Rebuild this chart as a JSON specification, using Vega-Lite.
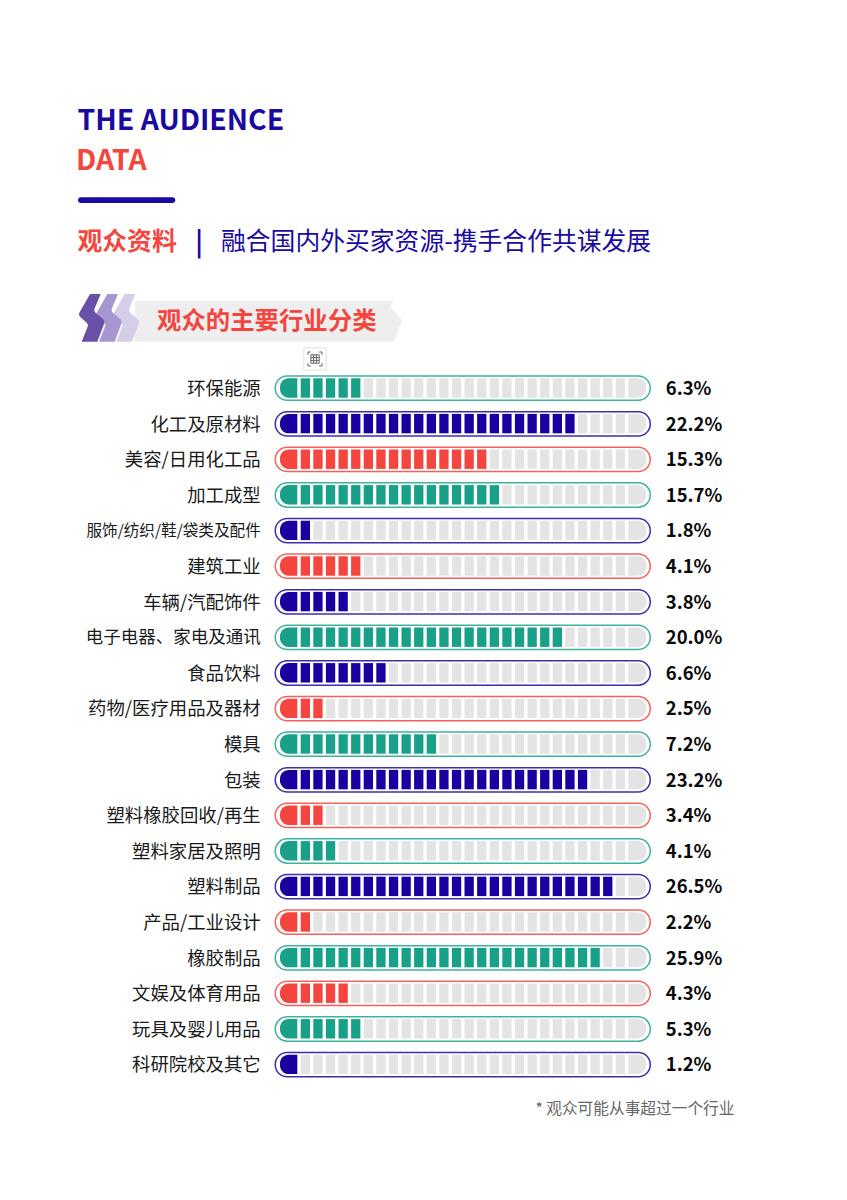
{"$schema":"https://vega.github.io/schema/vega-lite/v6.json","width":847,"height":1200,"padding":0,"autosize":{"type":"none"},"background":"#ffffff","view":{"stroke":null},"config":{"font":"Noto Sans CJK SC","text":{"font":"Noto Sans CJK SC"}},"datasets":{"rows":[
{"name":"环保能源","group":"teal","pct":0.063,"filled":6,"seg":[0,1,2,3,4,5,6,7,8,9,10,11,12,13,14,15,16,17,18,19,20,21,22,23,24,25,26,27]},
{"name":"化工及原材料","group":"navy","pct":0.222,"filled":23,"seg":[0,1,2,3,4,5,6,7,8,9,10,11,12,13,14,15,16,17,18,19,20,21,22,23,24,25,26,27]},
{"name":"美容/日用化工品","group":"red","pct":0.153,"filled":16,"seg":[0,1,2,3,4,5,6,7,8,9,10,11,12,13,14,15,16,17,18,19,20,21,22,23,24,25,26,27]},
{"name":"加工成型","group":"teal","pct":0.157,"filled":17,"seg":[0,1,2,3,4,5,6,7,8,9,10,11,12,13,14,15,16,17,18,19,20,21,22,23,24,25,26,27]},
{"name":"服饰/纺织/鞋/袋类及配件","group":"navy","pct":0.018,"filled":2,"seg":[0,1,2,3,4,5,6,7,8,9,10,11,12,13,14,15,16,17,18,19,20,21,22,23,24,25,26,27]},
{"name":"建筑工业","group":"red","pct":0.041,"filled":6,"seg":[0,1,2,3,4,5,6,7,8,9,10,11,12,13,14,15,16,17,18,19,20,21,22,23,24,25,26,27]},
{"name":"车辆/汽配饰件","group":"navy","pct":0.038,"filled":5,"seg":[0,1,2,3,4,5,6,7,8,9,10,11,12,13,14,15,16,17,18,19,20,21,22,23,24,25,26,27]},
{"name":"电子电器、家电及通讯","group":"teal","pct":0.2,"filled":22,"seg":[0,1,2,3,4,5,6,7,8,9,10,11,12,13,14,15,16,17,18,19,20,21,22,23,24,25,26,27]},
{"name":"食品饮料","group":"navy","pct":0.066,"filled":8,"seg":[0,1,2,3,4,5,6,7,8,9,10,11,12,13,14,15,16,17,18,19,20,21,22,23,24,25,26,27]},
{"name":"药物/医疗用品及器材","group":"red","pct":0.025,"filled":3,"seg":[0,1,2,3,4,5,6,7,8,9,10,11,12,13,14,15,16,17,18,19,20,21,22,23,24,25,26,27]},
{"name":"模具","group":"teal","pct":0.072,"filled":12,"seg":[0,1,2,3,4,5,6,7,8,9,10,11,12,13,14,15,16,17,18,19,20,21,22,23,24,25,26,27]},
{"name":"包装","group":"navy","pct":0.232,"filled":24,"seg":[0,1,2,3,4,5,6,7,8,9,10,11,12,13,14,15,16,17,18,19,20,21,22,23,24,25,26,27]},
{"name":"塑料橡胶回收/再生","group":"red","pct":0.034,"filled":3,"seg":[0,1,2,3,4,5,6,7,8,9,10,11,12,13,14,15,16,17,18,19,20,21,22,23,24,25,26,27]},
{"name":"塑料家居及照明","group":"teal","pct":0.041,"filled":4,"seg":[0,1,2,3,4,5,6,7,8,9,10,11,12,13,14,15,16,17,18,19,20,21,22,23,24,25,26,27]},
{"name":"塑料制品","group":"navy","pct":0.265,"filled":26,"seg":[0,1,2,3,4,5,6,7,8,9,10,11,12,13,14,15,16,17,18,19,20,21,22,23,24,25,26,27]},
{"name":"产品/工业设计","group":"red","pct":0.022,"filled":2,"seg":[0,1,2,3,4,5,6,7,8,9,10,11,12,13,14,15,16,17,18,19,20,21,22,23,24,25,26,27]},
{"name":"橡胶制品","group":"teal","pct":0.259,"filled":25,"seg":[0,1,2,3,4,5,6,7,8,9,10,11,12,13,14,15,16,17,18,19,20,21,22,23,24,25,26,27]},
{"name":"文娱及体育用品","group":"red","pct":0.043,"filled":5,"seg":[0,1,2,3,4,5,6,7,8,9,10,11,12,13,14,15,16,17,18,19,20,21,22,23,24,25,26,27]},
{"name":"玩具及婴儿用品","group":"teal","pct":0.053,"filled":6,"seg":[0,1,2,3,4,5,6,7,8,9,10,11,12,13,14,15,16,17,18,19,20,21,22,23,24,25,26,27]},
{"name":"科研院校及其它","group":"navy","pct":0.012,"filled":1,"seg":[0,1,2,3,4,5,6,7,8,9,10,11,12,13,14,15,16,17,18,19,20,21,22,23,24,25,26,27]}
]},
"encoding":{"y":{"field":"name","type":"nominal","sort":null,"axis":null,"scale":{"type":"band","range":[370.2,1082.2],"paddingInner":0,"paddingOuter":0}}},
"layer":[
{"data":{"values":[{"text":"THE AUDIENCE"}]},"mark":{"type":"text","x":77.5,"y":130,"align":"left","baseline":"alphabetic","fontSize":28.4,"fontWeight":"bold","color":"#1a0aa0"},"encoding":{"y":null,"text":{"field":"text"}}},
{"data":{"values":[{"text":"DATA"}]},"mark":{"type":"text","x":76,"y":170,"align":"left","baseline":"alphabetic","fontSize":28.4,"fontWeight":"bold","color":"#f4453f"},"encoding":{"y":null,"text":{"field":"text"}}},
{"data":{"values":[{"t":"rule"}]},"mark":{"type":"rect","x":78,"x2":175.3,"y":197.3,"y2":203,"cornerRadius":2.8,"color":"#1a0aa0"},"encoding":{"y":null}},
{"data":{"values":[{"text":"观众资料"}]},"mark":{"type":"text","x":77.5,"y":250,"align":"left","baseline":"alphabetic","fontSize":24.8,"fontWeight":"bold","color":"#f4453f"},"encoding":{"y":null,"text":{"field":"text"}}},
{"data":{"values":[{"text":"|"}]},"mark":{"type":"text","x":199,"y":251,"align":"center","baseline":"alphabetic","fontSize":26,"fontWeight":"bold","color":"#1a0aa0"},"encoding":{"y":null,"text":{"field":"text"}}},
{"data":{"values":[{"text":"融合国内外买家资源-携手合作共谋发展"}]},"mark":{"type":"text","x":221,"y":250,"align":"left","baseline":"alphabetic","fontSize":24.8,"color":"#1a0aa0"},"encoding":{"y":null,"text":{"field":"text"}}},
{"data":{"values":[{"t":"banner"}]},"mark":{"type":"point","x":268,"y":321.2,"filled":true,"opacity":1,"size":71824,"color":"#eeeeee","shape":"M-0.99 -0.153 L0.94 -0.153 L0.91 -0.108 L1 -0.009 L0.94 0.153 L-1 0.153 Z"},"encoding":{"y":null}},
{"data":{"values":[{"t":"s3"}]},"mark":{"type":"point","x":126.3,"y":317.7,"filled":true,"opacity":1,"size":2304,"color":"#d6cde8","shape":"M-0.07 -0.99 L0.375 -0.99 L0.12 -0.38 Q0.08 -0.28 0.17 -0.2 L0.47 0.05 Q0.56 0.13 0.52 0.24 L0.236 1 L-0.417 1 L-0.17 0.38 Q-0.13 0.28 -0.22 0.2 L-0.48 -0.03 Q-0.56 -0.1 -0.52 -0.2 Z"},"encoding":{"y":null}},
{"data":{"values":[{"t":"s2"}]},"mark":{"type":"point","x":109,"y":317.7,"filled":true,"opacity":1,"size":2304,"color":"#a796d0","shape":"M-0.07 -0.99 L0.375 -0.99 L0.12 -0.38 Q0.08 -0.28 0.17 -0.2 L0.47 0.05 Q0.56 0.13 0.52 0.24 L0.236 1 L-0.417 1 L-0.17 0.38 Q-0.13 0.28 -0.22 0.2 L-0.48 -0.03 Q-0.56 -0.1 -0.52 -0.2 Z"},"encoding":{"y":null}},
{"data":{"values":[{"t":"s1"}]},"mark":{"type":"point","x":91.7,"y":317.7,"filled":true,"opacity":1,"size":2304,"color":"#6a51a8","shape":"M-0.07 -0.99 L0.375 -0.99 L0.12 -0.38 Q0.08 -0.28 0.17 -0.2 L0.47 0.05 Q0.56 0.13 0.52 0.24 L0.236 1 L-0.417 1 L-0.17 0.38 Q-0.13 0.28 -0.22 0.2 L-0.48 -0.03 Q-0.56 -0.1 -0.52 -0.2 Z"},"encoding":{"y":null}},
{"data":{"values":[{"text":"观众的主要行业分类"}]},"mark":{"type":"text","x":157,"y":329,"align":"left","baseline":"alphabetic","fontSize":24.4,"fontWeight":"bold","color":"#f4453f"},"encoding":{"y":null,"text":{"field":"text"}}},
{"data":{"values":[{"t":"iconbox"}]},"mark":{"type":"point","shape":"square","x":315,"y":359,"size":500,"filled":true,"opacity":1,"fill":"#ffffff","stroke":"#e2e2e2","strokeWidth":1},"encoding":{"y":null}},
{"data":{"values":[{"t":"icon"}]},"mark":{"type":"point","x":315,"y":359,"size":196,"filled":false,"opacity":1,"stroke":"#666666","strokeWidth":1,"shape":"M-1 -0.6 V-1 H-0.6 M0.6 -1 H1 V-0.6 M1 0.6 V1 H0.6 M-0.6 1 H-1 V0.6 M-0.6 -0.6 H0.6 V0.6 H-0.6 Z M-0.2 -0.6 V0.6 M0.2 -0.6 V0.6 M-0.6 -0.2 H0.6 M-0.6 0.2 H0.6"},"encoding":{"y":null}},
{"data":{"name":"rows"},"mark":{"type":"bar","width":375,"height":24.3,"xOffset":6.2,"yOffset":0.2,"cornerRadius":12,"fillOpacity":0,"strokeWidth":1.5,"strokeOpacity":0.85},"encoding":{"x":{"datum":13,"type":"ordinal","axis":null,"sort":null,"scale":{"type":"band","domain":[0,1,2,3,4,5,6,7,8,9,10,11,12,13,14,15,16,17,18,19,20,21,22,23,24,25,26,27],"range":[286.45,639.25],"paddingInner":0,"paddingOuter":0}},"stroke":{"field":"group","type":"nominal","legend":null,"scale":{"domain":["teal","navy","red"],"range":["#1fa58a","#1a0aa0","#f4453f"]}}}},
{"data":{"name":"rows"},"transform":[{"flatten":["seg"]},{"filter":"datum.seg>0 && datum.seg<27"}],"mark":{"type":"bar","width":9.3,"height":19.4},"encoding":{"x":{"field":"seg","type":"ordinal"},"fill":{"condition":{"test":"datum.seg<datum.filled","field":"group","type":"nominal","legend":null,"scale":{"domain":["teal","navy","red"],"range":["#18a088","#1a00a0","#f4453f"]}},"value":"#e4e4e4"}}},
{"data":{"name":"rows"},"transform":[{"flatten":["seg"]},{"filter":"datum.seg==0"}],"mark":{"type":"bar","width":17.3,"height":19.4,"xOffset":-4.1,"cornerRadiusTopLeft":9.7,"cornerRadiusBottomLeft":9.7},"encoding":{"x":{"field":"seg","type":"ordinal"},"fill":{"condition":{"test":"datum.seg<datum.filled","field":"group","type":"nominal","legend":null,"scale":{"domain":["teal","navy","red"],"range":["#18a088","#1a00a0","#f4453f"]}},"value":"#e4e4e4"}}},
{"data":{"name":"rows"},"transform":[{"flatten":["seg"]},{"filter":"datum.seg==27"}],"mark":{"type":"bar","width":18,"height":19.4,"xOffset":4.35,"cornerRadiusTopRight":9.7,"cornerRadiusBottomRight":9.7},"encoding":{"x":{"field":"seg","type":"ordinal"},"fill":{"condition":{"test":"datum.seg<datum.filled","field":"group","type":"nominal","legend":null,"scale":{"domain":["teal","navy","red"],"range":["#18a088","#1a00a0","#f4453f"]}},"value":"#e4e4e4"}}},
{"data":{"name":"rows"},"mark":{"type":"text","align":"right","baseline":"middle","dx":-32,"dy":1,"color":"#1a1a1a"},"encoding":{"x":{"datum":0,"type":"ordinal"},"text":{"field":"name"},"size":{"condition":[{"test":"datum.name==='服饰/纺织/鞋/袋类及配件'","value":15.6},{"test":"datum.name==='电子电器、家电及通讯'","value":17.5}],"value":18.4}}},
{"data":{"name":"rows"},"mark":{"type":"text","align":"left","baseline":"middle","dx":32.8,"dy":1,"fontSize":18.5,"fontWeight":"bold","color":"#0a0a0a"},"encoding":{"x":{"datum":27,"type":"ordinal"},"text":{"field":"pct","format":".1%"}}},
{"data":{"values":[{"text":"* 观众可能从事超过一个行业"}]},"mark":{"type":"text","x":734.5,"y":1114,"align":"right","baseline":"alphabetic","fontSize":15.7,"color":"#666666"},"encoding":{"y":null,"text":{"field":"text"}}}
]}
